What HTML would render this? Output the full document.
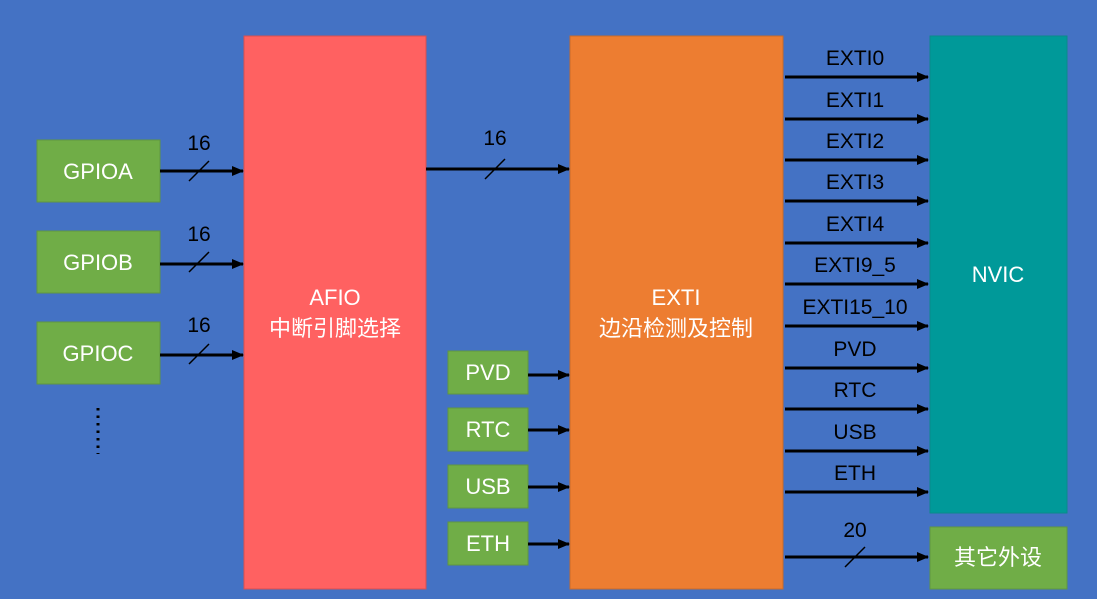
<!DOCTYPE html>
<html><head><meta charset="utf-8"><style>
html,body{margin:0;padding:0;background:#4472C4;}
svg{display:block;font-family:"Liberation Sans","Noto Sans CJK SC",sans-serif;}
</style></head><body>
<svg width="1097" height="599" viewBox="0 0 1097 599" xmlns="http://www.w3.org/2000/svg">
<defs><marker id="a" markerWidth="12" markerHeight="10" refX="11" refY="5" orient="auto" markerUnits="userSpaceOnUse"><path d="M0,0 L12,5 L0,10 z" fill="#000"/></marker></defs>
<rect width="1097" height="599" fill="#4472C4"/>
<g fill="#70AD47" stroke="#5f9640" stroke-width="1">
<rect x="37" y="140" width="123" height="62"/>
<rect x="37" y="231" width="123" height="62"/>
<rect x="37" y="322" width="123" height="62"/>
<rect x="448" y="351" width="80" height="43"/>
<rect x="448" y="408" width="80" height="43"/>
<rect x="448" y="465" width="80" height="43"/>
<rect x="448" y="522" width="80" height="43"/>
<rect x="930" y="527" width="137" height="62"/>
</g>
<rect x="244" y="36" width="182" height="553" fill="#FF6161" stroke="#d85050"/>
<rect x="570" y="36" width="213" height="553" fill="#ED7D31" stroke="#c96a2a"/>
<rect x="930" y="36" width="137" height="477" fill="#009999" stroke="#0a8a8a"/>
<g fill="#fff" font-size="22" text-anchor="middle">
<text x="98" y="179">GPIOA</text><text x="98" y="270">GPIOB</text><text x="98" y="361">GPIOC</text>
<text x="488" y="380">PVD</text><text x="488" y="437">RTC</text><text x="488" y="494">USB</text><text x="488" y="551">ETH</text>
<text x="998" y="565">其它外设</text>
<text x="335" y="305">AFIO</text><text x="335" y="336">中断引脚选择</text>
<text x="676" y="305">EXTI</text><text x="676" y="336">边沿检测及控制</text>
<text x="998" y="282">NVIC</text>
</g>
<g stroke="#000" stroke-width="3" marker-end="url(#a)">
<line x1="160" y1="171" x2="243" y2="171"/><line x1="160" y1="264" x2="243" y2="264"/><line x1="160" y1="355" x2="243" y2="355"/>
<line x1="426" y1="169" x2="569" y2="169"/>
<line x1="528" y1="375" x2="569" y2="375"/><line x1="528" y1="430" x2="569" y2="430"/><line x1="528" y1="487" x2="569" y2="487"/><line x1="528" y1="544" x2="569" y2="544"/>
<line x1="785" y1="77" x2="928" y2="77"/><line x1="785" y1="119" x2="928" y2="119"/><line x1="785" y1="160" x2="928" y2="160"/><line x1="785" y1="201" x2="928" y2="201"/><line x1="785" y1="243" x2="928" y2="243"/><line x1="785" y1="284" x2="928" y2="284"/><line x1="785" y1="326" x2="928" y2="326"/><line x1="785" y1="368" x2="928" y2="368"/><line x1="785" y1="409" x2="928" y2="409"/><line x1="785" y1="451" x2="928" y2="451"/><line x1="785" y1="492" x2="928" y2="492"/>
<line x1="785" y1="557" x2="928" y2="557"/>
</g>
<g stroke="#000" stroke-width="1.5">
<line x1="189" y1="181" x2="209" y2="161"/><line x1="189" y1="272" x2="209" y2="252"/><line x1="189" y1="364" x2="209" y2="344"/>
<line x1="485" y1="179" x2="505" y2="159"/><line x1="845" y1="567" x2="865" y2="547"/>
</g>
<g fill="#000" font-size="21" text-anchor="middle">
<text x="199" y="150">16</text><text x="199" y="241">16</text><text x="199" y="332">16</text><text x="495" y="145">16</text><text x="855" y="537">20</text>
<text x="855" y="65">EXTI0</text><text x="855" y="107">EXTI1</text><text x="855" y="148">EXTI2</text><text x="855" y="189">EXTI3</text><text x="855" y="231">EXTI4</text><text x="855" y="272">EXTI9_5</text><text x="855" y="314">EXTI15_10</text><text x="855" y="356">PVD</text><text x="855" y="397">RTC</text><text x="855" y="439">USB</text><text x="855" y="480">ETH</text>
</g>
<line x1="98" y1="408" x2="98" y2="454" stroke="#000" stroke-width="3" stroke-dasharray="2.5,5"/>
</svg>
</body></html>
